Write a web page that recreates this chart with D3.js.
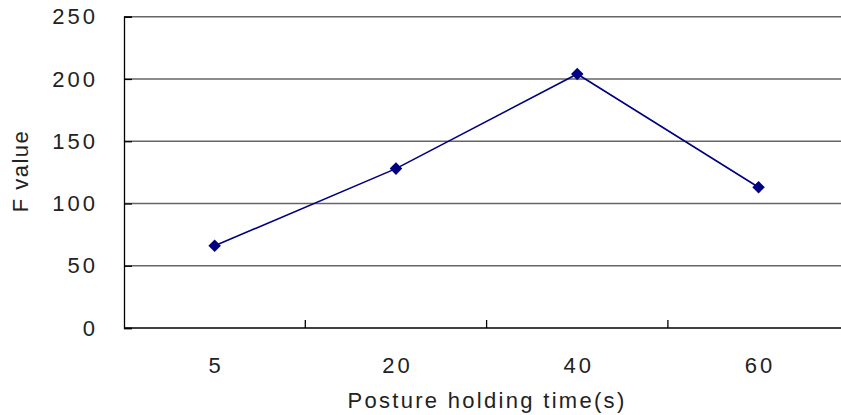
<!DOCTYPE html>
<html><head><meta charset="utf-8">
<script src="https://cdn.jsdelivr.net/npm/d3@7"></script>
<style>
body{margin:0;background:#fff;}
text{font-family:"Liberation Sans",Arial,sans-serif;fill:#222;}
</style></head>
<body>
<svg id="c" width="841" height="415"></svg>
<script>
const categories = ["5","20","40","60"];
const fValues = [66, 128, 204, 113];
const yTicks = [0,50,100,150,200,250];
const xTitle = "Posture holding time(s)";
const yTitle = "F value";

const svg = d3.select("#c");
const mLeft = 124, mTop = 16.7, mBottom = 328, bandW = 181.3;
const x = d3.scaleBand().domain(categories).range([mLeft, mLeft + bandW*categories.length]).padding(0);
const y = d3.scaleLinear().domain([0,250]).range([mBottom, mTop]);

// gridlines
svg.append("g").selectAll("line").data(yTicks.filter(d=>d>0)).join("line")
  .attr("x1", mLeft).attr("x2", 841)
  .attr("y1", d=>y(d)).attr("y2", d=>y(d))
  .attr("stroke", "#666").attr("stroke-width", 1.4);

// y axis
const yAxis = svg.append("g").attr("transform", `translate(${mLeft},0)`)
  .call(d3.axisLeft(y).tickValues(yTicks).tickSize(-8).tickPadding(26));
yAxis.select(".domain").attr("stroke","#000").attr("stroke-width",1.3);
yAxis.selectAll(".tick line").attr("stroke","#000").attr("stroke-width",1.3);
yAxis.selectAll("text").attr("font-size",22).attr("letter-spacing","3px")
  .attr("fill","#222").attr("font-family",'"Liberation Sans",Arial,sans-serif');

// x axis line
svg.append("line").attr("x1", mLeft).attr("x2", 841).attr("y1", mBottom).attr("y2", mBottom)
  .attr("stroke","#000").attr("stroke-width",1.3);
// x tick marks at band boundaries
svg.append("g").selectAll("line").data(categories.slice(1)).join("line")
  .attr("x1", d=>x(d)).attr("x2", d=>x(d)).attr("y1", mBottom).attr("y2", mBottom-8)
  .attr("stroke","#000").attr("stroke-width",1.3);
// x labels
svg.append("g").selectAll("text").data(categories).join("text")
  .attr("x", d=>x(d)+x.bandwidth()/2+1.5).attr("y", 373)
  .attr("text-anchor","middle").attr("font-size",22).attr("letter-spacing","3px")
  .text(d=>d);

// titles
svg.append("text").attr("x", 487).attr("y", 408).attr("text-anchor","middle")
  .attr("font-size",22).attr("letter-spacing","2.3px").text(xTitle);
svg.append("text").attr("transform","translate(28,171) rotate(-90)")
  .attr("text-anchor","middle").attr("font-size",22).attr("letter-spacing","1.5px").text(yTitle);

// line
const cx = (d,i)=>x(categories[i])+x.bandwidth()/2;
svg.append("path").datum(fValues)
  .attr("d", d3.line().x((d,i)=>cx(d,i)).y(d=>y(d)))
  .attr("fill","none").attr("stroke","#000080").attr("stroke-width",1.6);
svg.append("g").selectAll("path").data(fValues).join("path")
  .attr("d", d3.symbol().type(d3.symbolDiamond2).size(100))
  .attr("transform",(d,i)=>`translate(${cx(d,i)},${y(d)})`)
  .attr("fill","#000080");
</script>
</body></html>
